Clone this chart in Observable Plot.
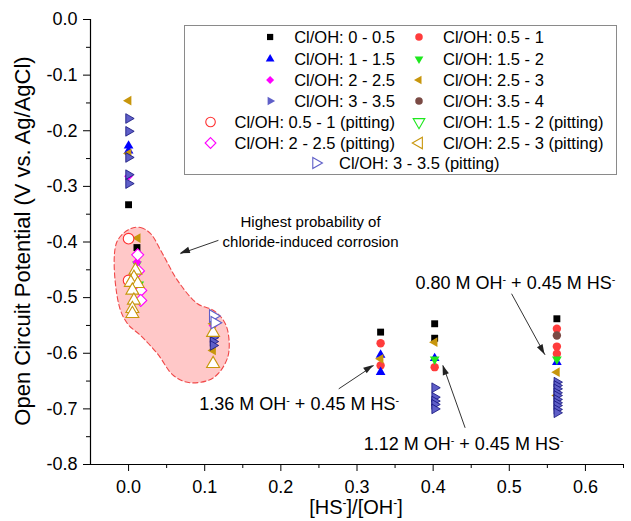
<!DOCTYPE html>
<html><head><meta charset="utf-8">
<script src="https://cdn.jsdelivr.net/npm/d3@7"></script>
<script src="https://cdn.jsdelivr.net/npm/@observablehq/plot@0.6"></script>
<style>body{margin:0;background:#fff}#chart{width:631px;height:521px}</style>
</head><body><div id="chart"></div>
<script>
const FONT = "'Liberation Sans', Arial, Helvetica, sans-serif";

// ---- data: [HS-]/[OH-] ratio (x) and open circuit potential (y) per series ----
const labels = ["Cl/OH: 0 - 0.5", "Cl/OH: 0.5 - 1", "Cl/OH: 1 - 1.5", "Cl/OH: 1.5 - 2",
  "Cl/OH: 2 - 2.5", "Cl/OH: 2.5 - 3", "Cl/OH: 3 - 3.5", "Cl/OH: 3.5 - 4",
  "Cl/OH: 0.5 - 1 (pitting)", "Cl/OH: 1.5 - 2 (pitting)", "Cl/OH: 2 - 2.5 (pitting)",
  "Cl/OH: 2.5 - 3 (pitting)", "Cl/OH: 3 - 3.5 (pitting)"];

const x_0_05 = [0, 0.011, 0.331, 0.402, 0.402, 0.5625];
const y_0_05 = [-0.333, -0.410, -0.562, -0.547, -0.573, -0.538];
const x_05_1 = [0.331, 0.331, 0.402, 0.5625, 0.5625, 0.5625];
const y_05_1 = [-0.582, -0.622, -0.625, -0.556, -0.588, -0.601];
const x_1_15 = [0, 0, 0.331, 0.331, 0.402, 0.5625];
const y_1_15 = [-0.227, -0.236, -0.603, -0.634, -0.609, -0.616];
const x_15_2 = [0.011, 0.014, 0.402, 0.5625];
const y_15_2 = [-0.440, -0.476, -0.611, -0.611];
const x_2_25 = [0, 0.011, 0.111];
const y_2_25 = [-0.282, -0.436, -0.550];
const x_25_3 = [0, 0, 0.012, 0.111, 0.111, 0.331, 0.402, 0.5625, 0.5625];
const y_25_3 = [-0.146, -0.241, -0.393, -0.547, -0.595, -0.610, -0.580, -0.634, -0.676];
const x_3_35 = [0, 0, 0, 0, 0, 0.111, 0.111, 0.111, 0.402, 0.402, 0.402, 0.402, 0.402,
  0.5625, 0.5625, 0.5625, 0.5625, 0.5625, 0.5625, 0.5625, 0.5625, 0.5625, 0.5625];
const y_3_35 = [-0.178, -0.201, -0.248, -0.279, -0.295, -0.572, -0.579, -0.586,
  -0.662, -0.679, -0.686, -0.692, -0.700,
  -0.652, -0.658, -0.664, -0.671, -0.676, -0.683, -0.689, -0.694, -0.701, -0.707];
const x_35_4 = [0.5625];
const y_35_4 = [-0.568];
const x_05_1p = [0, 0];
const y_05_1p = [-0.394, -0.469];
const x_15_2p = [];
const y_15_2p = [];
const x_2_25p = [0.012, 0.013, 0.016, 0.016];
const y_2_25p = [-0.423, -0.452, -0.487, -0.505];
const x_25_3p = [0.009, 0.007, 0.003, 0.012, 0.005, 0.007, 0.005, 0.005, 0.111, 0.111];
const y_25_3p = [-0.451, -0.464, -0.473, -0.475, -0.487, -0.505, -0.520, -0.529, -0.563, -0.619];
const x_3_35p = [0.111, 0.113];
const y_3_35p = [-0.533, -0.545];

const seriesX = [x_0_05, x_05_1, x_1_15, x_15_2, x_2_25, x_25_3, x_3_35, x_35_4, x_05_1p, x_15_2p, x_2_25p, x_25_3p, x_3_35p];
const seriesY = [y_0_05, y_05_1, y_1_15, y_15_2, y_2_25, y_25_3, y_3_35, y_35_4, y_05_1p, y_15_2p, y_2_25p, y_25_3p, y_3_35p];

// outline of the shaded "highest probability" region (data units)
const blobX = [0.0026, 0.0157, 0.0289, 0.0446, 0.0643, 0.0906, 0.1115, 0.1247, 0.131, 0.130, 0.1115, 0.081, 0.059, 0.038, 0.0157, -0.0013, -0.0131, -0.0157];
const blobY = [-0.376, -0.374, -0.385, -0.421, -0.469, -0.511, -0.523, -0.541, -0.565, -0.608, -0.644, -0.653, -0.640, -0.601, -0.568, -0.547, -0.511, -0.401];

// annotations
const annText = ["Highest probability of", "chloride-induced corrosion",
  "0.80 M OH⁻ + 0.45 M HS⁻", "1.36 M OH⁻ + 0.45 M HS⁻", "1.12 M OH⁻ + 0.45 M HS⁻"];
const annX = [0.239, 0.239, 0.508, 0.224, 0.440];
const annY = [-0.365, -0.401, -0.475, -0.692, -0.763];
const annSize = [15, 15, 18, 18, 18];
const arrX1 = [0.118, 0.503, 0.276, 0.442];
const arrY1 = [-0.397, -0.493, -0.664, -0.734];
const arrX2 = [0.068, 0.547, 0.322, 0.413];
const arrY2 = [-0.421, -0.603, -0.622, -0.622];

const xMajor = [0, 0.1, 0.2, 0.3, 0.4, 0.5, 0.6];
const xMinor = [0.05, 0.15, 0.25, 0.35, 0.45, 0.55, 0.65];
const yMajor = [0, -0.1, -0.2, -0.3, -0.4, -0.5, -0.6, -0.7, -0.8];
const yMinor = [-0.05, -0.15, -0.25, -0.35, -0.45, -0.55, -0.65, -0.75];

// ---- symbols ----
const s3 = Math.sqrt(3);
function tri(rot) {
  return {draw(ctx, size) {
    const y = -Math.sqrt(size / (s3 * 3));
    let pts = [[0, 2 * y], [-s3 * y, -y], [s3 * y, -y]];
    pts = pts.map(([a, b]) => rot === "down" ? [a, -b] : rot === "left" ? [b, a] : rot === "right" ? [-b, a] : [a, b]);
    ctx.moveTo(pts[0][0], pts[0][1]); ctx.lineTo(pts[1][0], pts[1][1]); ctx.lineTo(pts[2][0], pts[2][1]); ctx.closePath();
  }};
}
const triUp = tri("up"), triDown = tri("down"), triLeft = tri("left"), triRight = tri("right");
const GOLD = "#c8960c", PURP = "#5f5fc8";
const styles = [
  {sym: "square", lsym: "square", color: "#000000", r: 3.9},
  {sym: "circle", lsym: "circle", color: "#ff3c3c", r: 4.2},
  {sym: triUp, lsym: triUp, color: "#0000ff", r: 3.6},
  {sym: triDown, lsym: triDown, color: "#1ee81e", r: 3.6},
  {sym: "diamond2", lsym: "diamond2", color: "#ff00ff", r: 4},
  {sym: triLeft, lsym: triLeft, color: GOLD, r: 3.6},
  {sym: triRight, lsym: triRight, color: PURP, r: 3.6, edge: "#10107a"},
  {sym: "circle", lsym: "circle", color: "#7a4a44", r: 4.2},
  {sym: "circle", lsym: "circle", color: "#ff3030", r: 5.3, open: true},
  {sym: triDown, lsym: triDown, color: "#1ee81e", r: 4.8, open: true},
  {sym: "diamond2", lsym: "diamond2", color: "#ff00ff", r: 5.4, open: true},
  {sym: triUp, lsym: triLeft, color: GOLD, r: 4.8, open: true},
  {sym: triRight, lsym: triRight, color: PURP, r: 4.6, open: true}
];

const blob = blobX.map((x, i) => ({x, y: blobY[i]}));
const ann = annText.map((t, i) => ({t, x: annX[i], y: annY[i], s: annSize[i]}));
const arrows = arrX1.map((x1, i) => ({x1, y1: arrY1[i], x2: arrX2[i], y2: arrY2[i]}));

const dotMarks = seriesX.map((xs, k) => {
  const st = styles[k];
  const d = xs.map((x, i) => ({x, y: seriesY[k][i]}));
  return Plot.dot(d, st.open
    ? {x: "x", y: "y", symbol: st.sym, r: st.r, fill: "white", stroke: st.color, strokeWidth: 1.1}
    : {x: "x", y: "y", symbol: st.sym, r: st.r, fill: st.color, stroke: st.edge || "none", strokeWidth: st.edge ? 0.8 : 0});
});

const svg = Plot.plot({
  width: 631, height: 521,
  marginLeft: 90, marginRight: 8, marginTop: 19, marginBottom: 57,
  style: {fontFamily: FONT, fontSize: "18px", color: "#000", background: "white"},
  x: {domain: [-0.05, 0.65], label: null},
  y: {domain: [-0.8, 0], label: null},
  marks: [
    Plot.line(blob, {x: "x", y: "y", curve: "catmull-rom-closed", fill: "#ffc8c8", stroke: "#f04848", strokeWidth: 1.1, strokeDasharray: "5,3"}),
    Plot.axisX(xMajor, {tickSize: 7, tickPadding: 9, tickFormat: d => d.toFixed(1), fontSize: 18, label: null}),
    Plot.axisX(xMinor, {tickSize: 4, tickFormat: () => "", label: null}),
    Plot.axisY(yMajor, {tickSize: 7, tickPadding: 6, tickFormat: d => d.toFixed(1), fontSize: 18, label: null}),
    Plot.axisY(yMinor, {tickSize: 4, tickFormat: () => "", label: null}),
    Plot.ruleX([-0.05], {stroke: "#000", strokeWidth: 1.2}),
    Plot.ruleY([-0.8], {stroke: "#000", strokeWidth: 1.2}),
    ...dotMarks,
    Plot.link(arrows, {x1: "x1", y1: "y1", x2: "x2", y2: "y2", stroke: "#333", strokeWidth: 1}),
    Plot.text(ann, {x: "x", y: "y", text: "t", fontSize: "s", fill: "#000"})
  ]
});
document.getElementById("chart").appendChild(svg);

const ns = "http://www.w3.org/2000/svg";
const sel = d3.select(svg);
const sx = svg.scale("x"), sy = svg.scale("y");

// filled arrowheads at arrow ends (positions from the plot's scales)
arrows.forEach(a => {
  const x1 = sx.apply(a.x1), y1 = sy.apply(a.y1), x2 = sx.apply(a.x2), y2 = sy.apply(a.y2);
  const ang = Math.atan2(y2 - y1, x2 - x1), L = 10, W = 3.2;
  const bx = x2 - L * Math.cos(ang), by = y2 - L * Math.sin(ang);
  const px = -Math.sin(ang) * W, py = Math.cos(ang) * W;
  sel.append("path").attr("d", `M${x2},${y2}L${bx + px},${by + py}L${bx - px},${by - py}Z`).attr("fill", "#222");
});

// axis titles
sel.append("text").attr("transform", "translate(22,241) rotate(-90)").attr("text-anchor", "middle")
  .attr("dy", "0.35em").attr("font-size", 22).attr("font-family", FONT).text("Open Circuit Potential (V vs. Ag/AgCl)");
sel.append("text").attr("x", 356).attr("y", 507).attr("text-anchor", "middle")
  .attr("dy", "0.35em").attr("font-size", 20).attr("font-family", FONT).text("[HS⁻]/[OH⁻]");

// legend
const lg = sel.append("g").attr("font-family", FONT).attr("font-size", 16.5).attr("text-anchor", "start");
lg.append("rect").attr("x", 184.5).attr("y", 25.5).attr("width", 432).attr("height", 149)
  .attr("fill", "white").attr("stroke", "#8a8a8a");
const rowY = [37, 59, 80, 101, 122, 143, 163];
labels.forEach((lab, k) => {
  const st = styles[k];
  const row = Math.floor(k / 2), col = k % 2;
  const y = rowY[row];
  const t = lg.append("text").attr("y", y).attr("dy", "0.35em").attr("text-anchor", "start").text(lab);
  let px;
  if (k === 12) { t.attr("x", 339); px = 316; }
  else if (col === 0) { t.attr("x", 395).attr("text-anchor", "end"); px = 395 - t.node().getComputedTextLength() - 24; }
  else { t.attr("x", 443); px = 419; }
  const size = Math.PI * Math.pow(st.r * 0.9, 2);
  const type = typeof st.lsym === "string" ? {square: d3.symbolSquare, circle: d3.symbolCircle, diamond2: d3.symbolDiamond2}[st.lsym] : st.lsym;
  lg.append("path").attr("d", d3.symbol(type, size)()).attr("transform", `translate(${px},${y})`)
    .attr("fill", st.open ? "white" : st.color).attr("stroke", st.open ? st.color : "none").attr("stroke-width", 1.1);
});

// superscript minus signs
svg.querySelectorAll("text").forEach(el => {
  if (el.querySelector("tspan")) return;
  const s = el.textContent;
  if (!s.includes("⁻")) return;
  el.textContent = "";
  s.split(/(⁻)/).forEach(part => {
    if (!part) return;
    const tsp = document.createElementNS(ns, "tspan");
    if (part === "⁻") { tsp.setAttribute("baseline-shift", "super"); tsp.setAttribute("font-size", "60%"); tsp.textContent = "-"; }
    else tsp.textContent = part;
    el.appendChild(tsp);
  });
});
</script></body></html>
